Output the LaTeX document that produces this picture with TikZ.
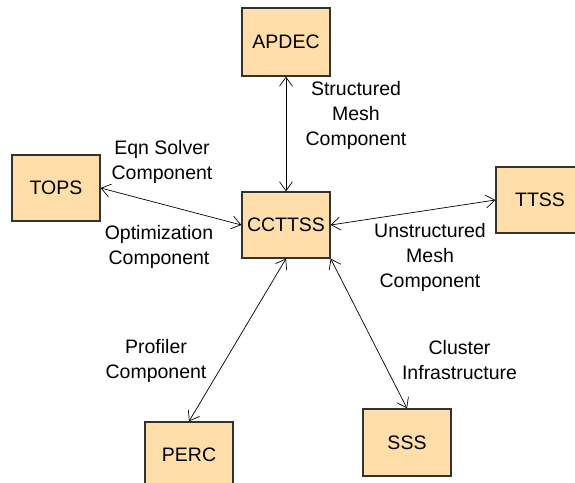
\documentclass[tikz,border=0pt]{standalone}
\usepackage{fontspec}
\setmainfont{Liberation Sans}
\usetikzlibrary{arrows.meta}
\definecolor{boxfill}{RGB}{255,222,170}
\definecolor{boxline}{RGB}{50,50,50}
\tikzset{
  comp/.style={draw=boxline,line width=1.3pt,fill=boxfill,minimum width=88pt,minimum height=66pt,inner sep=0pt,font=\fontsize{19.5}{25}\selectfont},
  lbl/.style={align=center,inner sep=0pt,font=\fontsize{19.5}{25}\selectfont},
  link/.style={{Straight Barb[length=9pt,width=13pt]}-{Straight Barb[length=9pt,width=13pt]},line width=0.7pt}
}
\begin{document}
\begin{tikzpicture}[x=1pt,y=-1pt]
\useasboundingbox (0,0) rectangle (575,482);
%=======components=============
\node[comp,minimum height=68pt] (apdec) at (286,42) {APDEC};
\node[comp] (tops) at (56,188) {TOPS};
\node[comp] (ccttss) at (286,225) {CCTTSS};
\node[comp] (ttss) at (540,200) {TTSS};
\node[comp] (perc) at (189,455) {PERC};
\node[comp,minimum height=67pt] (sss) at (407,442.5) {SSS};
%=======links=============
\draw[link] (apdec.south)--(ccttss.north);
\draw[link] (tops.east)--(ccttss.west);
\draw[link] (ccttss.east)--(ttss.west);
\draw[link] (ccttss.south)--(perc.north);
\draw[link] (ccttss.south east)--(sss.north);
%=======labels=============
\node[lbl] (structured) at (356,115.5) {Structured\\Mesh\\Component};
\node[lbl] (eqn) at (162,161.5) {Eqn Solver\\Component};
\node[lbl] (optim) at (159,246.5) {Optimization\\Component};
\node[lbl] (unstructured) at (430,257.5) {Unstructured\\Mesh\\Component};
\node[lbl] (profiler) at (156,361) {Profiler\\Component};
\node[lbl] (cluster) at (459.5,360.5) {Cluster\\Infrastructure};
\end{tikzpicture}
\end{document}
